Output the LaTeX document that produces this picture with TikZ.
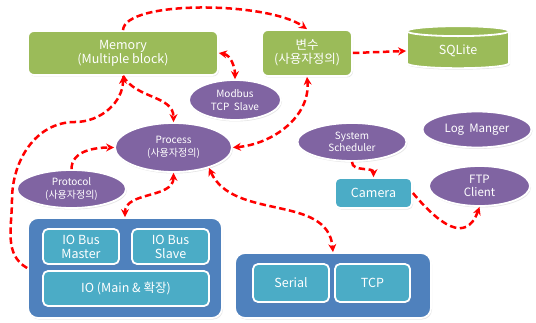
\documentclass[tikz,border=0pt]{standalone}
\usepackage{fontspec}
\newfontfamily\kofont{Noto Sans CJK KR}
\usepackage{xcolor}
\usetikzlibrary{arrows.meta,shapes.geometric,shadows}

\definecolor{memgreen}{HTML}{9BBB59}
\definecolor{procpurple}{HTML}{8064A2}
\definecolor{ioteal}{HTML}{4BACC6}
\definecolor{ioblue}{HTML}{4F81BD}

\begin{document}
\begin{tikzpicture}[x=1pt,y=1pt,
  shade/.style={drop shadow={opacity=0.2,shadow xshift=1pt,shadow yshift=-1.5pt}},
  greenbox/.style={shade,draw=white,line width=1.8pt,fill=memgreen,rounded corners=6pt,
    text=white,align=center,font=\kofont\fontsize{12.5}{14}\selectfont},
  purplenode/.style={shade,ellipse,draw=white,line width=1.8pt,fill=procpurple,
    text=white,align=center,inner sep=0pt,font=\kofont\fontsize{10}{12.5}\selectfont},
  bluebox/.style={shade,draw=white,line width=1.8pt,fill=ioblue,rounded corners=10pt},
  tealbox/.style={shade,draw=white,line width=1.8pt,fill=ioteal,rounded corners=5pt,
    text=white,align=center,font=\kofont\fontsize{12.5}{14}\selectfont},
  link/.style={red,line width=2.5pt,dash pattern=on 6.5pt off 3.5pt,
    -{Stealth[length=8pt,width=8pt]}},
  link2/.style={link,{Stealth[length=8pt,width=8pt]}-{Stealth[length=8pt,width=8pt]}}]
\useasboundingbox (0,0) rectangle (536,322);

\node[greenbox,minimum width=190,minimum height=44] (mem) at (123,269) {Memory\\(Multiple block)};
\node[greenbox,minimum width=90,minimum height=46] (var) at (307,269) {변수\\(사용자정의)};
\node[shade,cylinder,shape border rotate=90,aspect=0.22,draw=white,line width=1.8pt,
  fill=memgreen,minimum width=102,minimum height=42,text=white,
  font=\kofont\fontsize{12.5}{14}\selectfont] (sqlite) at (458,271) {SQLite};

\node[purplenode,minimum width=92,minimum height=40] (modbus) at (235,222) {Modbus\\TCP~ Slave};
\node[purplenode,minimum width=117,minimum height=49] (proc) at (173.5,174.5) {Process\\(사용자정의)};
\node[purplenode,minimum width=109,minimum height=38] (proto) at (71.5,133) {Protocol\\(사용자정의)};
\node[purplenode,minimum width=109,minimum height=38] (sched) at (352,180) {System\\Scheduler};
\node[purplenode,minimum width=109,minimum height=36,font=\kofont\fontsize{11.5}{13.5}\selectfont]
  (logm) at (477,192.5) {Log~ Manger};
\node[purplenode,minimum width=101,minimum height=40,font=\kofont\fontsize{11.5}{13.5}\selectfont]
  (ftp) at (479.5,136) {FTP\\Client};
\node[tealbox,minimum width=77,minimum height=30] (cam) at (373.5,129) {Camera};

\node[bluebox,minimum width=194,minimum height=100] (iobox) at (125,54) {};
\node[tealbox,minimum width=76,minimum height=35] (iomaster) at (81,75.5) {IO Bus\\Master};
\node[tealbox,minimum width=77,minimum height=35] (ioslave) at (170.5,75.5) {IO Bus\\Slave};
\node[tealbox,minimum width=166,minimum height=35] (iomain) at (126,33.5) {IO (Main \& 확장)};

\node[bluebox,minimum width=196,minimum height=65] (netbox) at (333,36.5) {};
\node[tealbox,minimum width=76,minimum height=38] (serial) at (291,39) {Serial};
\node[tealbox,minimum width=75,minimum height=38] (tcp) at (372.5,39) {TCP};

\draw[link] (mem.north) .. controls +(2,30) and +(-40,28) .. (var.north);
\draw[link] (var.east) -- (sqlite.west);
\draw[link2] (mem.east) to[out=-10,in=90] (modbus.north);
\draw[link] (iobox.west) to[out=150,in=-90] (12,122) to[out=90,in=180] (75,200)
  to[out=0,in=-90] (mem.south);
\draw[link] (mem.south) to[out=-60,in=90] (proc.north);
\draw[link2] (proc.east) to[out=5,in=-85] (var.south);
\draw[link] (proto.north) to[out=90,in=180] (proc.west);
\draw[link2] (proc.south) to[out=-90,in=90] (iobox.north);
\draw[link2] (proc.-30) to[out=-65,in=95] (netbox.north);
\draw[link] (sched.south) to[out=-90,in=90] (cam.north);
\draw[link] (cam.east) to[out=-50,in=-110,looseness=1.5] (ftp.south);
\end{tikzpicture}
\end{document}
